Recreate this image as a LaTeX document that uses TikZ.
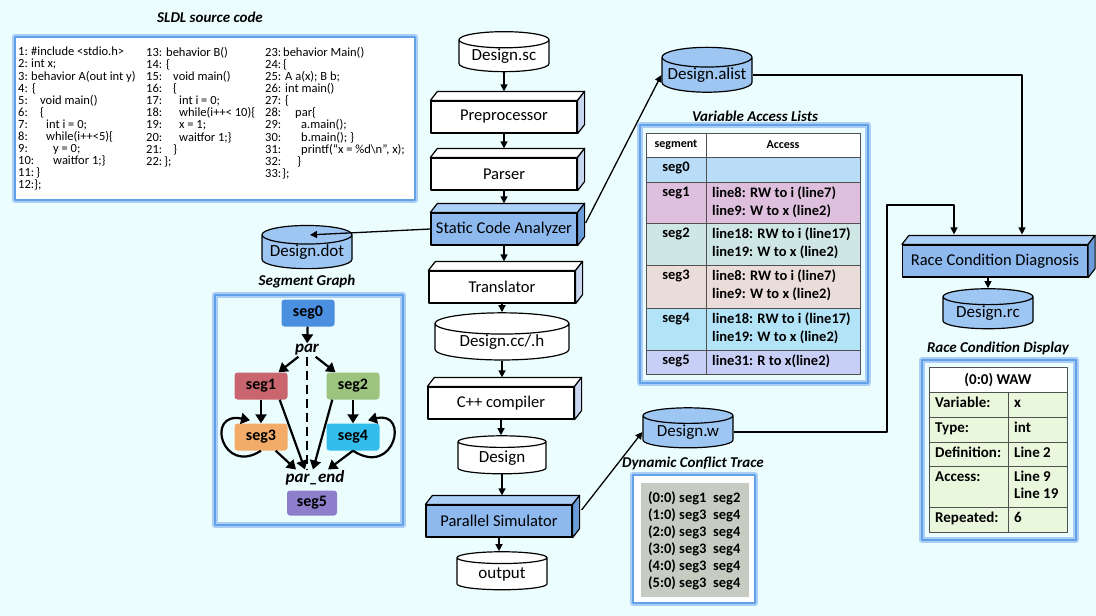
\documentclass[tikz,border=0pt]{standalone}
\usepackage{fontspec}
\setmainfont{Carlito}
\usetikzlibrary{arrows.meta,shapes.geometric,calc}

\definecolor{bgc}{RGB}{236,253,254}
\definecolor{glowout}{RGB}{170,206,246}
\definecolor{glowin}{RGB}{98,160,232}
\definecolor{bfront}{RGB}{141,185,238}
\definecolor{btop}{RGB}{172,207,247}
\definecolor{bside}{RGB}{108,156,216}
\definecolor{wside}{RGB}{200,214,240}
\definecolor{cylblue}{RGB}{157,198,243}
\definecolor{cseg0}{RGB}{74,143,224}
\definecolor{cseg1}{RGB}{201,101,110}
\definecolor{cseg2}{RGB}{157,196,127}
\definecolor{cseg3}{RGB}{242,171,104}
\definecolor{cseg4}{RGB}{51,189,237}
\definecolor{cseg5}{RGB}{142,127,204}
\definecolor{vrow0}{RGB}{185,221,248}
\definecolor{vrow1}{RGB}{222,192,222}
\definecolor{vrow2}{RGB}{206,230,228}
\definecolor{vrow3}{RGB}{234,221,217}
\definecolor{vrow4}{RGB}{179,227,247}
\definecolor{vrow5}{RGB}{200,207,246}
\definecolor{rrow}{RGB}{233,248,221}
\definecolor{trace}{RGB}{198,204,194}
\definecolor{tline}{RGB}{80,80,80}

\newcommand{\fsz}[1]{\fontsize{#1}{#1}\selectfont}
\newcommand{\cln}[3]{\makebox[#2pt][l]{#1}#3}

\begin{document}
\begin{tikzpicture}[x=1pt,y=-1pt,line join=round]
	\tikzstyle{blk}=[draw,line width=1.2pt,minimum width=146pt,minimum height=32pt,inner sep=0pt,font=\fsz{16.5}]
	\tikzstyle{db}=[cylinder,shape border rotate=90,aspect=0.25,draw,line width=1.2pt,minimum width=90pt,minimum height=40pt,inner sep=0pt,font=\fsz{17}]
	\tikzstyle{ttl}=[font=\bfseries\itshape\fsz{15}]
	\tikzstyle{glow}=[draw=glowin,line width=1.6pt,preaction={draw=glowout,line width=6pt}]
	\tikzstyle{flow}=[draw,line width=1.3pt,-{Triangle[length=7pt,width=7pt]}]
	\tikzstyle{seg}=[rounded corners=3pt,minimum width=53pt,minimum height=27pt,font=\bfseries\fsz{16}]
	\tikzstyle{gedge}=[draw,line width=2.2pt,-{Triangle[length=9pt,width=11pt]}]
	\tikzstyle{tcell}=[inner sep=0pt,align=left,font=\bfseries\fontsize{14.5}{18}\selectfont]
	\tikzstyle{rcell}=[inner sep=0pt,align=left,font=\bfseries\fontsize{15}{17}\selectfont]
	\tikzstyle{tgrid}=[draw=tline,line width=1pt]
	\tikzstyle{srccode}=[inner sep=0pt,align=left,font=\fontsize{12.5}{12.1}\selectfont]

	\fill[bgc] (0,0) rectangle (1096,616);
	\useasboundingbox (0,0) rectangle (1096,616);

	% source code
	\node[ttl] (t-src) at (210,17) {SLDL source code};
	\filldraw[glow,fill=white] (15,37) rectangle (415,200);
	\node[srccode,anchor=north west] (colA) at (18,47) {%
		\cln{1:}{13}{\#include <stdio.h>}\\
		\cln{2:}{13}{int x;}\\
		\cln{3:}{13}{behavior A(out int y)}\\
		\cln{4:}{14}{\{}\\
		\cln{5:}{22}{void main()}\\
		\cln{6:}{22}{\{}\\
		\cln{7:}{28}{int i = 0;}\\
		\cln{8:}{28}{while(i++<5)\{}\\
		\cln{9:}{35}{y = 0;}\\
		\cln{10:}{35}{waitfor 1;\}}\\
		\cln{11:}{18}{\}}\\
		12:\};};
	\node[srccode,anchor=north west] (colB) at (146,47) {%
		\cln{13:}{20}{behavior B()}\\
		\cln{14:}{20}{\{}\\
		\cln{15:}{27}{void main()}\\
		\cln{16:}{27}{\{}\\
		\cln{17:}{33}{int i = 0;}\\
		\cln{18:}{33}{while(i++< 10)\{}\\
		\cln{19:}{33}{x = 1;}\\
		\cln{20:}{33}{waitfor 1;\}}\\
		\cln{21:}{27}{\}}\\
		\cln{22:}{18}{\};}};
	\node[srccode,anchor=north west] (colC) at (265,47) {%
		\cln{23:}{18}{behavior Main()}\\
		\cln{24:}{18}{\{}\\
		\cln{25:}{20}{A a(x); B b;}\\
		\cln{26:}{20}{int main()}\\
		\cln{27:}{20}{\{}\\
		\cln{28:}{30}{par\{}\\
		\cln{29:}{36}{a.main();}\\
		\cln{30:}{36}{b.main(); \}}\\
		\cln{31:}{36}{printf(“x = \%d\textbackslash n”, x);}\\
		\cln{32:}{32}{\}}\\
		\cln{33:}{17}{\};}};

	% segment graph
	\node[ttl] (t-seg) at (307,281) {Segment Graph};
	\draw[glow] (215,295) rectangle (403,525);
	\node[seg,fill=cseg0] (seg0) at (308,313) {seg0};
	\node[font=\bfseries\itshape\fsz{17},inner sep=1pt] (fork) at (307,350) {par};
	\node[seg,fill=cseg1] (seg1) at (261,386) {seg1};
	\node[seg,fill=cseg2] (seg2) at (353,386) {seg2};
	\node[seg,fill=cseg3] (seg3) at (261,437) {seg3};
	\node[seg,fill=cseg4] (seg4) at (353,437) {seg4};
	\node[font=\bfseries\itshape\fsz{17},inner sep=1pt] (join) at (315,478) {par\_end};
	\node[seg,fill=cseg5,minimum width=50pt,minimum height=25pt] (seg5) at (312,503) {seg5};

	\path[gedge] (seg0) -- (fork);
	\path[gedge] (fork) -- (seg1);
	\path[gedge] (fork) -- (seg2);
	\draw[line width=2pt,dash pattern=on 9pt off 5pt] (fork.south) -- (fork.south |- join.north);
	\path[gedge] (seg1) -- (seg3);
	\path[gedge] (seg2) -- (seg4);
	\path[gedge] ($(seg1.south east)+(-8,0)$) -- ($(join.north)+(-10,0)$);
	\path[gedge] ($(seg3.south east)+(-12,0)$) -- ($(join.north)+(-19,0)$);
	\path[gedge] ($(seg2.south west)+(6,0)$) -- ($(join.north)+(-2,0)$);
	\path[gedge] (seg4.south) -- ($(join.north)+(13,0)$);
	\path[gedge] (seg3.south) .. controls (222,476) and (205,411) .. ($(seg3.north)+(-11,-3)$);
	\path[gedge] (seg4.south) .. controls (395,478) and (410,410) .. ($(seg4.north)+(15,-3)$);

	% tool flow
	\node[db,fill=white] (sc) at (504,56) {Design.sc};
	\node[blk,fill=white] (pre) at (504,117) {Preprocessor};
	\node[blk,fill=white] (parse) at (504,174) {Parser};
	\node[blk,fill=bfront] (sca) at (504,229) {Static Code Analyzer};
	\node[blk,fill=white] (trans) at (502,287) {Translator};
	\node[db,fill=white,minimum width=134pt,minimum height=42pt] (cc) at (502,342) {Design.cc/.h};
	\node[blk,fill=white] (cpp) at (501,403) {C++ compiler};
	\node[db,fill=white,minimum width=88pt,minimum height=38pt] (dsg) at (502,458) {Design};
	\node[blk,fill=bfront] (sim) at (499,521) {Parallel Simulator};
	\node[db,fill=white,minimum height=38pt] (out) at (502,574) {output};

	\node[db,fill=cylblue] (dot) at (307,252) {Design.dot};
	\node[db,fill=cylblue] (alist) at (707,75) {Design.alist};
	\node[db,fill=cylblue] (dw) at (688,432) {Design.w};
	\node[blk,fill=bfront,minimum width=185pt] (rcd) at (995,261) {Race Condition Diagnosis};
	\node[db,fill=cylblue] (rc) at (988,313) {Design.rc};

	\foreach \b/\tp/\sd in {pre/white/wside,parse/white/wside,sca/btop/bside,trans/white/wside,cpp/white/wside,sim/btop/bside,rcd/btop/bside}{
		\filldraw[line width=1.2pt,fill=\tp] (\b.north west) -- ++(7,-9) -- ($(\b.north east)+(7,-9)$) -- (\b.north east) -- cycle;
		\filldraw[line width=1.2pt,fill=\sd] (\b.north east) -- ++(7,-9) -- ($(\b.south east)+(7,-9)$) -- (\b.south east) -- cycle;
	}
	\coordinate (pre-top) at ($(pre.north)+(0,-9)$);
	\coordinate (parse-top) at ($(parse.north)+(0,-9)$);
	\coordinate (sca-top) at ($(sca.north)+(0,-9)$);
	\coordinate (trans-top) at ($(trans.north)+(0,-9)$);
	\coordinate (cpp-top) at ($(cpp.north)+(0,-9)$);
	\coordinate (sim-top) at ($(sim.north)+(0,-9)$);

	\path[flow] (sc.south) -- (sc.south |- pre-top);
	\path[flow] (pre.south) -- (pre.south |- parse-top);
	\path[flow] (parse.south) -- (parse.south |- sca-top);
	\path[flow] (sca.south) -- (sca.south |- trans-top);
	\path[flow] (trans.south) -- (trans.south |- cc.north);
	\path[flow] (cc.south) -- (cc.south |- cpp-top);
	\path[flow] (cpp.south) -- (cpp.south |- dsg.north);
	\path[flow] (dsg.south) -- (dsg.south |- sim-top);
	\path[flow] (sim.south) -- (sim.south |- out.north);

	\path[flow] (sca.west) -- ($(dot.north)+(3,10)$);
	\coordinate (sca-out) at ($(sca.east)+(8,-6)$);
	\path[flow] (sca-out) -- (alist.west);
	\coordinate (sim-out) at ($(sim.east)+(9,-11)$);
	\path[flow] (sim-out) -- (dw.west);
	\coordinate (rcd-r) at ($(rcd.north)+(27,-10)$);
	\coordinate (rcd-l) at ($(rcd.north)+(-41,-10)$);
	\coordinate (bend) at (887,205);
	\path[flow] (alist.east) -| (rcd-r);
	\path[flow] (dw.east) -| (bend) -| (rcd-l);
	\path[flow] (rcd.south -| rc.north) -- (rc.north);

	% variable access lists
	\node[ttl] (t-val) at (755,116) {Variable Access Lists};
	\draw[glow] (640,125) rectangle (868,383);
	\filldraw[tgrid,fill=white] (646,133) rectangle (860,157);
	\draw[tgrid] (706,133) -- (706,157);
	\node[font=\bfseries\fsz{12}] (h-seg) at (676,145) {segment};
	\node[font=\bfseries\fsz{12}] (h-acc) at (783,145) {Access};
	\foreach \tp/\bt/\cl/\sg/\ac in {157/182/vrow0/seg0/{},
		182/223/vrow1/seg1/{line8: RW to i (line7)\\line9: W to x (line2)},
		223/265/vrow2/seg2/{line18: RW to i (line17)\\line19: W to x (line2)},
		265/308/vrow3/seg3/{line8: RW to i (line7)\\line9: W to x (line2)},
		308/350/vrow4/seg4/{line18: RW to i (line17)\\line19: W to x (line2)},
		350/374/vrow5/seg5/{line31: R to x(line2)}}{
		\filldraw[tgrid,fill=\cl] (646,\tp) rectangle (860,\bt);
		\draw[tgrid] (706,\tp) -- (706,\bt);
		\node[tcell,anchor=north] (v-\sg) at (676,\tp+5) {\sg};
		\node[tcell,anchor=north west] (a-\sg) at (712,\tp+5) {\ac};
	}

	% race condition display
	\node[ttl] (t-race) at (998,348) {Race Condition Display};
	\draw[glow] (922,360) rectangle (1076,540);
	\filldraw[tgrid,fill=white] (929,367) rectangle (1067,392);
	\node[rcell] (r-head) at (998,380) {(0:0) WAW};
	\foreach \tp/\bt/\ky/\vl in {392/417/Variable:/x, 417/442/Type:/int, 442/466/Definition:/Line 2,
		466/507/Access:/{Line 9\\Line 19}, 507/532/Repeated:/6}{
		\filldraw[tgrid,fill=rrow] (929,\tp) rectangle (1067,\bt);
		\draw[tgrid] (1008,\tp) -- (1008,\bt);
		\node[rcell,anchor=north west] (k-\tp) at (935,\tp+3) {\strut\ky};
		\node[rcell,anchor=north west] (l-\tp) at (1014,\tp+3) {\strut\vl};
	}

	% dynamic conflict trace
	\node[ttl] (t-dyn) at (693,463) {Dynamic Conflict Trace};
	\filldraw[glow,fill=white] (633,475) rectangle (755,603);
	\fill[trace] (641,483) rectangle (749,597);
	\foreach \i/\a/\b in {0/seg1/seg2,1/seg3/seg4,2/seg3/seg4,3/seg3/seg4,4/seg3/seg4,5/seg3/seg4}{
		\node[font=\bfseries\fsz{14.5},anchor=west,inner sep=0pt] (tr-\i) at (648,498+17*\i) {(\i:0) \a\ \ \b};
	}
\end{tikzpicture}
\end{document}
